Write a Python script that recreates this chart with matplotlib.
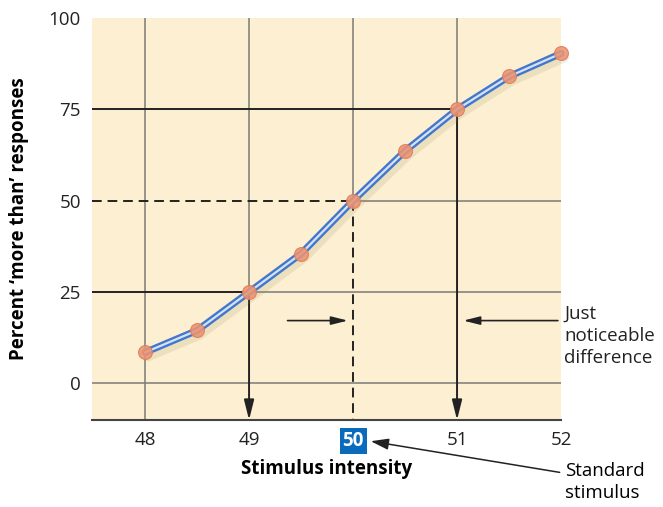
import matplotlib
matplotlib.use("Agg")
import matplotlib.pyplot as plt
import matplotlib.patheffects as pe

intensity = [48, 48.5, 49, 49.5, 50, 50.5, 51, 51.5, 52]
percent = [8.5, 14.5, 25, 35.5, 50, 63.6, 75, 84, 90.3]
xticks = [48, 49, 50, 51, 52]
yticks = [0, 25, 50, 75, 100]

plt.rcParams['font.family'] = ['Open Sans', 'DejaVu Sans']

fig = plt.figure(figsize=(6.63, 5.07), dpi=100)
ax = fig.add_axes([0.1388, 0.1716, 0.8462 - 0.1388, 0.9645 - 0.1716])
ax.set_facecolor('#fdefd2')
ax.set_xlim(47.49, 52)
ax.set_ylim(-10, 100)

grid_c = '#7a7a75'
dark = '#222222'
# vertical grid
ax.plot([48, 48], [-10, 100], color=grid_c, lw=1.1, zorder=1)
ax.plot([49, 49], [25, 100], color=grid_c, lw=1.1, zorder=1)
ax.plot([50, 50], [50, 100], color=grid_c, lw=1.1, zorder=1)
ax.plot([51, 51], [75, 100], color=grid_c, lw=1.1, zorder=1)
# horizontal grid
ax.plot([47.49, 52], [0, 0], color=grid_c, lw=1.1, zorder=1)
ax.plot([49, 52], [25, 25], color=grid_c, lw=1.1, zorder=1)
ax.plot([50, 52], [50, 50], color=grid_c, lw=1.1, zorder=1)
# dark reference lines
ax.plot([47.49, 51], [75, 75], color=dark, lw=1.4, zorder=2)
ax.plot([47.49, 49], [25, 25], color=dark, lw=1.4, zorder=2)
ax.plot([47.49, 50], [50, 50], color=dark, lw=1.4, ls=(0, (5, 3)), zorder=2)
ax.plot([50, 50], [50, -10], color=dark, lw=1.4, ls=(0, (5, 3)), zorder=2)
for xv, yv in [(49, 25), (51, 75)]:
    ax.annotate('', xy=(xv, -10), xytext=(xv, yv),
                arrowprops=dict(arrowstyle='-|>,head_length=1.2,head_width=0.3',
                                color=dark, lw=1.4, shrinkA=0, shrinkB=0), zorder=3)
# JND arrows
ax.annotate('', xy=(49.95, 17.2), xytext=(49.37, 17.2),
            arrowprops=dict(arrowstyle='-|>,head_length=1.0,head_width=0.25',
                            color=dark, lw=1.2, shrinkA=0, shrinkB=0))
ax.annotate('', xy=(51.06, 17.2), xytext=(51.97, 17.2),
            arrowprops=dict(arrowstyle='-|>,head_length=1.0,head_width=0.25',
                            color=dark, lw=1.2, shrinkA=0, shrinkB=0), annotation_clip=False)
ax.text(52.03, 21.5, 'Just\nnoticeable\ndifference', fontsize=13.5, va='top',
        ha='left', color='#222222', linespacing=1.3, clip_on=False)

# curve
ax.plot(intensity, percent, color='#4377cc', lw=5, solid_capstyle='round', zorder=4,
        clip_on=False,
        path_effects=[pe.SimpleLineShadow(offset=(2, -3), shadow_color='#8a8a50', alpha=0.15, linewidth=7), pe.Normal()])
ax.plot(intensity, percent, color='#d6e2f5', lw=1.6, zorder=5, clip_on=False)
ax.plot(intensity, percent, 'o', ms=10, color='#eb9472', alpha=0.88, mec='#e07a55', mew=0.8,
        zorder=6, clip_on=False)

ax.set_xticks(xticks)
ax.set_xticklabels([str(t) for t in xticks])
ax.set_yticks(yticks)
ax.set_yticklabels([str(t) for t in yticks])
ax.tick_params(length=0, labelsize=13.5, colors='#222222', pad=8)
for lbl in ax.get_xticklabels():
    if lbl.get_text() == '50':
        lbl.set_color('white')
        lbl.set_fontweight('bold')
        lbl.set_bbox(dict(boxstyle='square,pad=0.15', fc='#0a6bbd', ec='none'))

for s in ['top', 'right', 'left']:
    ax.spines[s].set_visible(False)
ax.spines['bottom'].set_color('#444444')
ax.spines['bottom'].set_linewidth(1.5)

ax.set_xlabel('Stimulus intensity', fontsize=13.5, fontweight='bold', labelpad=6)
ax.set_ylabel('Percent \u2018more than\u2019 responses', fontsize=13.5, fontweight='bold', labelpad=14)

ax.annotate('Standard\nstimulus', xy=(50.17, -15.8), xytext=(52.04, -21.5),
            xycoords='data', textcoords='data', fontsize=13.5, va='top', ha='left',
            annotation_clip=False, linespacing=1.3,
            arrowprops=dict(arrowstyle='-|>,head_length=0.8,head_width=0.25', color=dark,
                            lw=1.1, shrinkA=2, shrinkB=0, relpos=(0, 0.72)))

fig.savefig('out.png', dpi=100)
